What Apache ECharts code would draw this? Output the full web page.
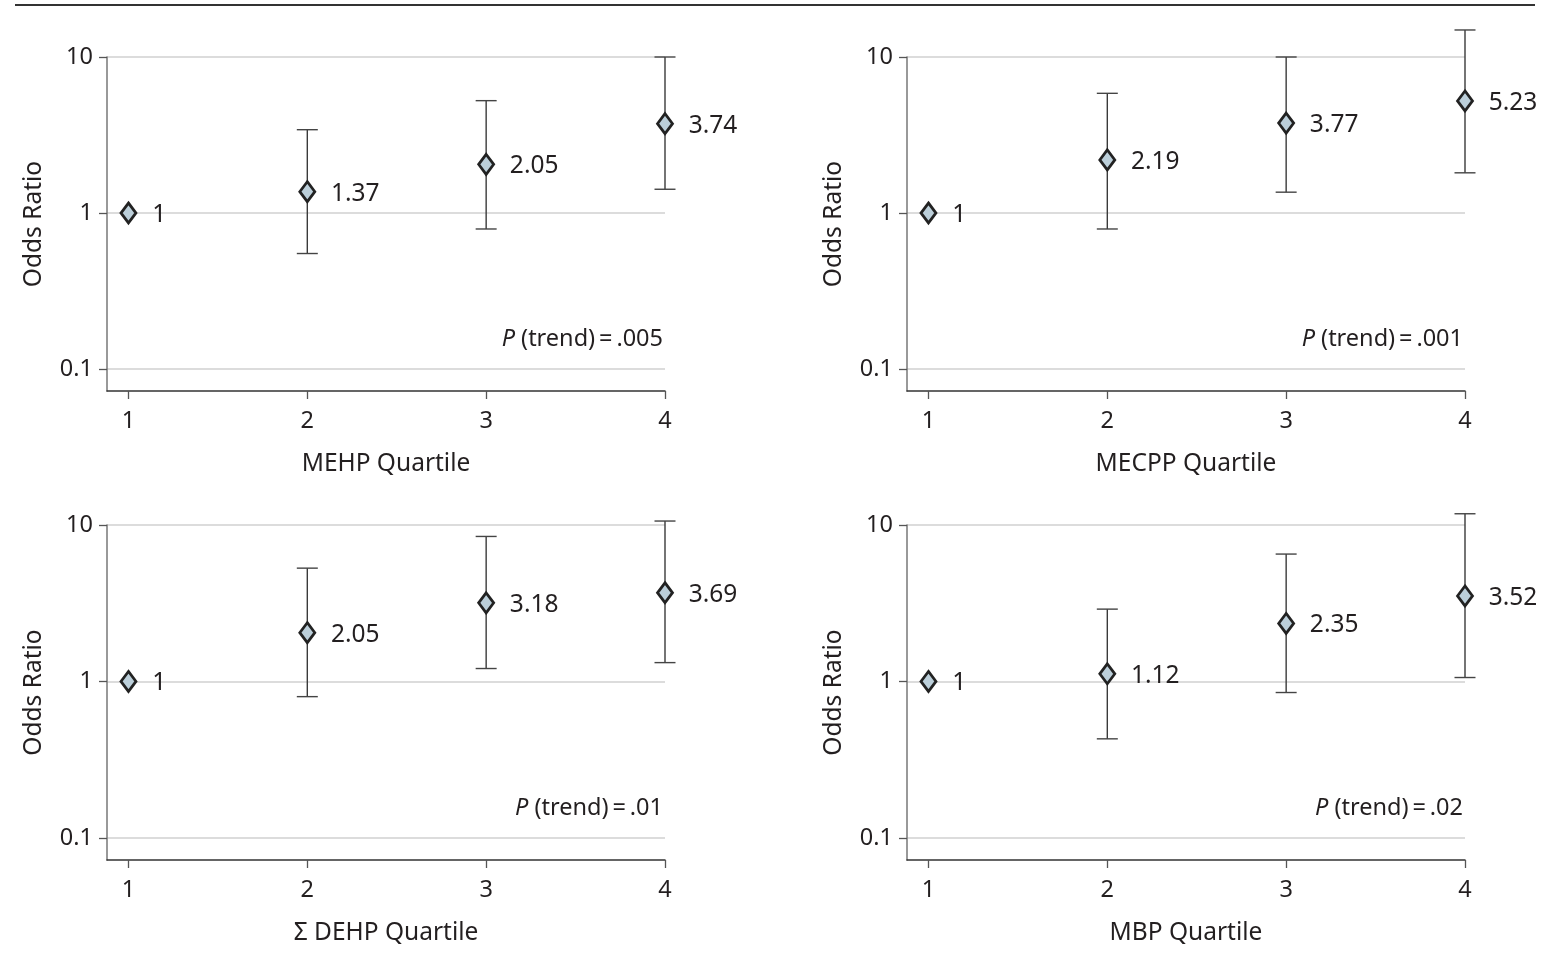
<!DOCTYPE html>
<html>
<head>
<meta charset="utf-8">
<script src="https://cdn.jsdelivr.net/npm/echarts@6/dist/echarts.min.js"></script>
<style>
html,body{margin:0;padding:0;background:#fff;}
#chart{width:1542px;height:977px;}
</style>
</head>
<body>
<div id="chart"></div>
<script>
// ---- data ----
const quartiles = [1, 2, 3, 4];
const yTicks = [0.1, 1, 10];

const panelNames = ['MEHP Quartile', 'MECPP Quartile', 'Σ DEHP Quartile', 'MBP Quartile'];
const pTrend = ['.005', '.001', '.01', '.02'];

const mehpOR = [1, 1.37, 2.05, 3.74];
const mehpLo = [null, 0.55, 0.79, 1.42];
const mehpHi = [null, 3.42, 5.25, 10.0];

const mecppOR = [1, 2.19, 3.77, 5.23];
const mecppLo = [null, 0.79, 1.36, 1.81];
const mecppHi = [null, 5.85, 10.0, 14.9];

const dehpOR = [1, 2.05, 3.18, 3.69];
const dehpLo = [null, 0.80, 1.21, 1.32];
const dehpHi = [null, 5.30, 8.45, 10.6];

const mbpOR = [1, 1.12, 2.35, 3.52];
const mbpLo = [null, 0.43, 0.85, 1.06];
const mbpHi = [null, 2.90, 6.52, 11.8];

const panels = [
  {or: mehpOR, lo: mehpLo, hi: mehpHi},
  {or: mecppOR, lo: mecppLo, hi: mecppHi},
  {or: dehpOR, lo: dehpLo, hi: dehpHi},
  {or: mbpOR, lo: mbpLo, hi: mbpHi}
];

// ---- layout ----
const FONT = '"Noto Sans", sans-serif';
const FS = 24.5;
const TXT = '#231f20';
const grids = [
  {left: 107, top: 57, width: 558, height: 334},
  {left: 907, top: 57, width: 558, height: 334},
  {left: 107, top: 525, width: 558, height: 335},
  {left: 907, top: 525, width: 558, height: 335}
];

const xAxes = [], yAxes = [], series = [], graphics = [];

grids.forEach((g, i) => {
  xAxes.push({
    gridIndex: i, type: 'value', min: 0.88, max: 4,
    name: panelNames[i], nameLocation: 'middle', nameGap: 61,
    nameTextStyle: {fontFamily: FONT, fontSize: FS, color: TXT},
    axisLine: {show: true, lineStyle: {color: '#333', width: 1.5}},
    axisTick: {show: true, length: 8, lineStyle: {color: '#555', width: 1.3}, customValues: quartiles},
    axisLabel: {customValues: quartiles, margin: 18, fontFamily: FONT, fontSize: FS - 1, color: TXT},
    splitLine: {show: false}
  });
  yAxes.push({
    gridIndex: i, type: 'log', logBase: 10, min: 0.0723, max: 10,
    name: 'Odds Ratio', nameLocation: 'middle', nameGap: 60,
    nameTextStyle: {fontFamily: FONT, fontSize: FS, color: TXT},
    axisLine: {show: true, lineStyle: {color: '#777', width: 1.5}},
    axisTick: {show: true, length: 8, lineStyle: {color: '#555', width: 1.3}, customValues: yTicks},
    axisLabel: {customValues: yTicks, margin: 14, fontFamily: FONT, fontSize: FS - 1, color: TXT,
      formatter: v => String(+v.toPrecision(3))},
    splitLine: {show: true, lineStyle: {color: '#dcdcdc', width: 2}}
  });

  const p = panels[i];
  const ciData = quartiles.map((q, k) => p.lo[k] == null ? null : [q, p.lo[k], p.hi[k]]).filter(d => d);
  series.push({
    type: 'custom', xAxisIndex: i, yAxisIndex: i, clip: false, silent: true,
    data: ciData,
    renderItem: (params, api) => {
      const lo = api.coord([api.value(0), api.value(1)]);
      const hi = api.coord([api.value(0), api.value(2)]);
      const cw = 10.5;
      return {type: 'group', children: [
        {type: 'line', shape: {x1: lo[0], y1: lo[1], x2: hi[0], y2: hi[1]}, style: {stroke: '#3a3a3a', lineWidth: 1.4}},
        {type: 'line', shape: {x1: lo[0] - cw, y1: lo[1], x2: lo[0] + cw, y2: lo[1]}, style: {stroke: '#444', lineWidth: 1.4}},
        {type: 'line', shape: {x1: hi[0] - cw, y1: hi[1], x2: hi[0] + cw, y2: hi[1]}, style: {stroke: '#444', lineWidth: 1.4}}
      ]};
    },
    z: 2
  });
  series.push({
    type: 'scatter', xAxisIndex: i, yAxisIndex: i, clip: false, silent: true,
    symbol: 'diamond', symbolSize: [15, 20],
    itemStyle: {color: '#bccfda', borderColor: '#222', borderWidth: 2.8, opacity: 1},
    label: {show: true, position: 'right', distance: 15, offset: [0, 2], fontFamily: FONT, fontSize: FS, color: TXT,
      formatter: d => String(d.value[1])},
    data: quartiles.map((q, k) => [q, p.or[k]]),
    z: 5
  });

  graphics.push({
    type: 'text',
    x: g.left + g.width - 2, y: g.top + g.height - 52,
    style: {
      text: '{i|P} (trend)\u2009=\u2009' + pTrend[i],
      align: 'right', verticalAlign: 'middle',
      fontFamily: FONT, fontSize: FS - 1, fill: TXT,
      rich: {i: {fontStyle: 'italic', fontFamily: FONT, fontSize: FS - 1, fill: TXT}}
    }
  });
});

graphics.push({
  type: 'line', shape: {x1: 15, y1: 5, x2: 1535, y2: 5},
  style: {stroke: '#333', lineWidth: 2.2}
});

const chart = echarts.init(document.getElementById('chart'), null, {renderer: 'canvas'});
chart.setOption({
  animation: false,
  backgroundColor: '#fff',
  grid: grids.map(g => Object.assign({containLabel: false}, g)),
  xAxis: xAxes,
  yAxis: yAxes,
  series: series,
  graphic: graphics
});
</script>
</body>
</html>
